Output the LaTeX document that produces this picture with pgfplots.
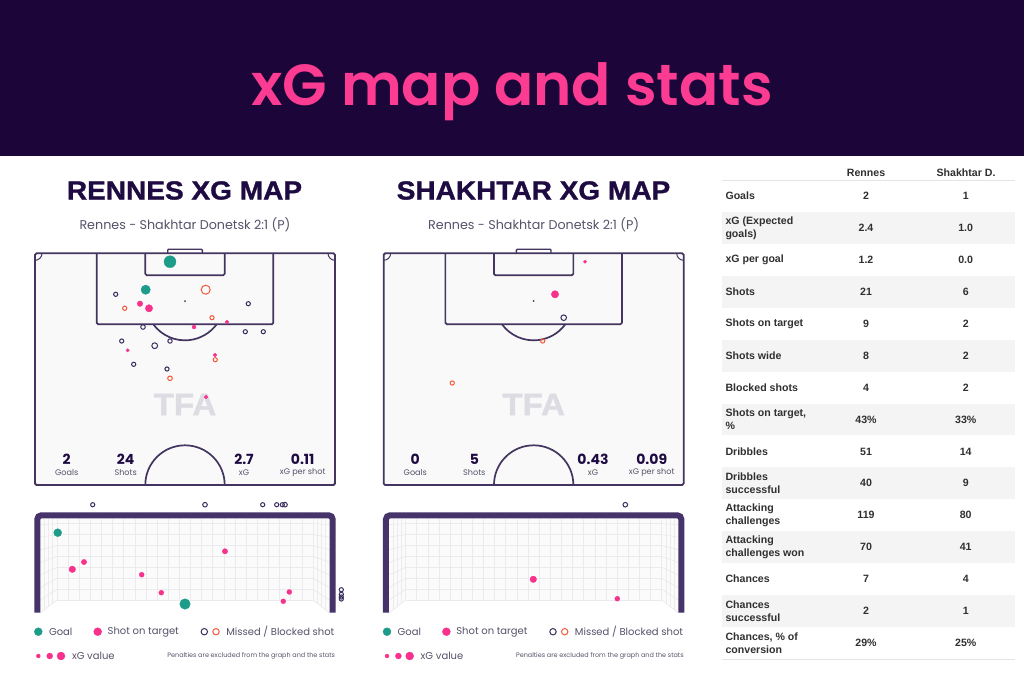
\documentclass[border=0pt]{standalone}
\usepackage{pgfplots}
\usepackage{pgfplotstable}
\usepackage{fontspec}
\pgfplotsset{compat=1.18}
\setmainfont{Liberation Sans}
\newfontfamily\popm{Poppins SemiBold}
\newfontfamily\popl{Poppins}
\newfontfamily\popb{Poppins}[BoldFont={Poppins Bold}]
\newfontfamily\headf{Liberation Sans Bold}[FakeStretch=1.07,FakeBold=1.2]
\definecolor{bandc}{HTML}{1C0538}
\definecolor{pinkc}{HTML}{F7318C}
\definecolor{titlec}{HTML}{FC3C92}
\definecolor{tealc}{HTML}{1E9C8A}
\definecolor{orngc}{HTML}{F4583A}
\definecolor{darkc}{HTML}{3A2D5F}
\definecolor{linec}{HTML}{43355F}
\definecolor{framec}{HTML}{45336A}
\definecolor{pitchc}{HTML}{F9F9F9}
\definecolor{netc}{HTML}{EBEBEE}
\definecolor{navyc}{HTML}{1E0B42}
\definecolor{grayt}{HTML}{57526A}
\definecolor{tblc}{HTML}{303030}
\definecolor{rowbg}{HTML}{F4F4F4}
\definecolor{rulec}{HTML}{E4E4E4}
\definecolor{tfac}{HTML}{DCDCE2}

% ---- data: x, y in reference pixels, r = marker radius
\pgfplotstableread{
x y r
170 261.7 6
145.7 289.7 4.7
57.7 532.7 4
185 604 5.3
}\RenGoal
\pgfplotstableread{
x y r
140 303.7 2.8
149 308.3 3.7
194 327 2
227 322 1.8
127.7 350.3 1.7
215 355 1.8
206 397 1.8
72.3 569.3 3.3
84 562 2.7
225 551.3 2.7
141.7 574.7 2.5
161.3 592.7 2.5
289.3 592 2.5
283.3 601.3 2.5
}\RenOn
\pgfplotstableread{
x y r
115.7 294.3 2.1
248.3 303.7 2.1
143 327 2.3
245.3 331.7 2.1
263.3 331.7 2.1
121.7 341 2.1
154.7 345.7 2.9
170 341 2.2
133.7 364.3 2.1
167 369 2.1
92.7 504.7 2.1
205 504.7 2.3
262.7 504.7 2.1
276.7 504.7 2.1
282.3 504.7 2.1
285 504.7 2.3
341.3 589.7 2.1
341.3 594.3 2.1
341.3 597 2.1
341.3 599 2.1
}\RenDark
\pgfplotstableread{
x y r
205.7 289.7 4.5
124.7 308.3 2.1
212 317.7 2.1
215.3 359.7 2.1
170 378.3 2.3
}\RenOrange
\pgfplotstableread{
x y r
585 261.7 1.7
555 294.3 3.7
533.3 579.3 3.3
617.3 598.7 2.5
}\ShaOn
\pgfplotstableread{
x y r
563.7 317.7 2.8
625.3 504.7 2.3
}\ShaDark
\pgfplotstableread{
x y r
542.7 341 2.1
452.3 383 2.1
}\ShaOrange
% legend glyphs
\pgfplotstableread{
x y r
38.3 631.7 4
387 631.7 4
}\LegGoal
\pgfplotstableread{
x y r
97.7 631.7 4
446.4 631.7 4
38.3 656 2
49.7 656 3
61 656 4
387 656 2
398.4 656 3
409.7 656 4
}\LegOn
\pgfplotstableread{
x y r
204.3 631.7 3.2
553 631.7 3.2
}\LegDark
\pgfplotstableread{
x y r
216 631.7 3.2
564.7 631.7 3.2
}\LegOrange

\pgfplotsset{
 shotbase/.style={only marks, scatter,
   visualization depends on={\thisrow{r}\as\rr},
   scatter/@pre marker code/.style={/tikz/mark size=\rr},
   scatter/@post marker code/.style={}},
 solidshot/.style={shotbase, mark=*, draw=#1, fill=#1, mark options={draw=#1,fill=#1,line width=0.3pt}},
 ringshot/.style={shotbase, mark=o, draw=#1, mark options={draw=#1,line width=1pt}},
}

\newcommand\pitchpanel[1]{%
  \fill[pitchc,rounded corners=1.5pt] (axis cs:#1+35,253.3) rectangle (axis cs:#1+335,485);
  \draw[linec,line width=1.8pt,rounded corners=1.5pt] (axis cs:#1+35,253.3) rectangle (axis cs:#1+335,485);
  \draw[linec,line width=1.4pt,rounded corners=1pt] (axis cs:#1+167.7,253.3) -- (axis cs:#1+167.7,249.2) -- (axis cs:#1+202.3,249.2) -- (axis cs:#1+202.3,253.3);
  \draw[linec,line width=1.7pt,rounded corners=1.5pt] (axis cs:#1+96.7,253.3) -- (axis cs:#1+96.7,324.3) -- (axis cs:#1+273.3,324.3) -- (axis cs:#1+273.3,253.3);
  \draw[linec,line width=1.7pt,rounded corners=1.5pt] (axis cs:#1+145.3,253.3) -- (axis cs:#1+145.3,275.3) -- (axis cs:#1+224.7,275.3) -- (axis cs:#1+224.7,253.3);
  \draw[linec,line width=1.7pt] (axis cs:#1+153.3,324.3) arc[start angle=143.7,end angle=36.3,radius=39.3];
  \draw[linec,line width=1.7pt] (axis cs:#1+145.3,485) arc[start angle=180,end angle=360,radius=39.7];
  \draw[linec,line width=1pt] (axis cs:#1+42,253.3) arc[start angle=0,end angle=90,radius=7];
  \draw[linec,line width=1pt] (axis cs:#1+328,253.3) arc[start angle=180,end angle=90,radius=7];
  \fill[linec] (axis cs:#1+185,301) circle[radius=1];
  \node[tfac,font=\headf\fontsize{31}{32}\selectfont] at (axis cs:#1+185,404.5) {TFA};
}
\newcommand\stat[4]{% dx, x, big, small
  \node[navyc,font=\popb\fontsize{14}{15}\selectfont\bfseries] at (axis cs:#1+#2,459) {#3};
  \node[grayt,font=\popl\fontsize{8.1}{10}\selectfont] at (axis cs:#1+#2,473) {#4};
}
\newcommand\goalpanel[1]{%
  \fill[white] (axis cs:#1+35,512.3) rectangle (axis cs:#1+335,612.7);
  \fill[pitchc!60!white] (axis cs:#1+40.5,518.5) -- (axis cs:#1+329.5,518.5) -- (axis cs:#1+329.5,612.7) -- (axis cs:#1+313,600) -- (axis cs:#1+57,600) -- (axis cs:#1+40.5,612.7) -- cycle;
  \pgfplotsinvokeforeach{0,...,23}{\draw[netc,line width=0.7pt] (axis cs:#1+57+11.13*##1,518.5) -- (axis cs:#1+57+11.13*##1,600);}
  \pgfplotsinvokeforeach{0,...,7}{%
    \draw[netc,line width=0.7pt] (axis cs:#1+57,600-10.9*##1) -- (axis cs:#1+313,600-10.9*##1);
    \draw[netc,line width=0.7pt] (axis cs:#1+57,600-10.9*##1) -- (axis cs:#1+40.5,600-10.9*##1+12.7-1.7*##1);
    \draw[netc,line width=0.7pt] (axis cs:#1+313,600-10.9*##1) -- (axis cs:#1+329.5,600-10.9*##1+12.7-1.7*##1);
  }
  \pgfplotsinvokeforeach{1,2,3}{%
    \draw[netc,line width=0.7pt] (axis cs:#1+40.5+4.1*##1,518.5) -- (axis cs:#1+40.5+4.1*##1,612.7-3.2*##1);
    \draw[netc,line width=0.7pt] (axis cs:#1+329.5-4.1*##1,518.5) -- (axis cs:#1+329.5-4.1*##1,612.7-3.2*##1);
  }
  \draw[framec,line width=6pt,rounded corners=4pt] (axis cs:#1+37.3,612.7) -- (axis cs:#1+37.3,515.3) -- (axis cs:#1+332.7,515.3) -- (axis cs:#1+332.7,612.7);
}
\newcommand\legendtext[1]{%
  \node[grayt,anchor=west,font=\popl\fontsize{10}{12}\selectfont] at (axis cs:#1+49,631.7) {Goal};
  \node[grayt,anchor=west,font=\popl\fontsize{10}{12}\selectfont] at (axis cs:#1+107.7,631.7) {Shot on target};
  \node[grayt,anchor=west,font=\popl\fontsize{10}{12}\selectfont] at (axis cs:#1+226.3,631.7) {Missed / Blocked shot};
  \node[grayt,anchor=west,font=\popl\fontsize{10}{12}\selectfont] at (axis cs:#1+72,656) {xG value};
  \node[grayt,anchor=east,font=\popl\fontsize{6.45}{8}\selectfont] at (axis cs:#1+335,656) {Penalties are excluded from the graph and the stats};
}
\newcommand\tablerow[4]{% row pos, label, a, b
  \node[tblc,anchor=west,align=left,font=\fontsize{10.6}{13}\selectfont\bfseries] at (axis cs:725.5,180+31.93*#1) {#2};
  \node[tblc,font=\fontsize{10.6}{13}\selectfont\bfseries] at (axis cs:866,180+31.93*#1) {#3};
  \node[tblc,font=\fontsize{10.6}{13}\selectfont\bfseries] at (axis cs:965.7,180+31.93*#1) {#4};
}
\newcommand\tableband[1]{\fill[rowbg] (axis cs:722,180+31.93*#1) rectangle (axis cs:1015,180+31.93*#1+31.93);}

\begin{document}
\begin{tikzpicture}[every node/.style={inner sep=0pt,outer sep=0pt}]
\begin{axis}[
  hide axis, scale only axis, width=1024pt, height=683pt,
  xmin=0, xmax=1024, ymin=0, ymax=683, y dir=reverse, clip=false,
]
\fill[white] (axis cs:0,0) rectangle (axis cs:1024,683);
\fill[bandc] (axis cs:0,0) rectangle (axis cs:1024,155.5);
\node[titlec,font=\popm\fontsize{58}{58}\selectfont] at (axis cs:512,91.5) {xG map and stats};

% headings
\node[navyc,font=\headf\fontsize{26.2}{27}\selectfont] at (axis cs:184.5,190.5) {RENNES XG MAP};
\node[navyc,font=\headf\fontsize{26.2}{27}\selectfont] at (axis cs:533.5,190.5) {SHAKHTAR XG MAP};
\node[grayt,font=\popl\fontsize{12.7}{15}\selectfont] at (axis cs:185,224.5) {Rennes - Shakhtar Donetsk 2:1 (P)};
\node[grayt,font=\popl\fontsize{12.7}{15}\selectfont] at (axis cs:533.7,224.5) {Rennes - Shakhtar Donetsk 2:1 (P)};

\pitchpanel{0}
\pitchpanel{348.67}
\stat{0}{66.7}{2}{Goals}
\stat{0}{125.7}{24}{Shots}
\stat{0}{244}{2.7}{xG}
\stat{0}{302.7}{0.11}{xG per shot}
\stat{0}{415.3}{0}{Goals}
\stat{0}{474.3}{5}{Shots}
\stat{0}{593}{0.43}{xG}
\stat{0}{651.7}{0.09}{xG per shot}
\goalpanel{0}
\goalpanel{348.67}
\legendtext{0}
\legendtext{348.67}

% shots
\addplot[solidshot=tealc] table[x=x,y=y] {\RenGoal};
\addplot[solidshot=pinkc] table[x=x,y=y] {\RenOn};
\addplot[ringshot=darkc] table[x=x,y=y] {\RenDark};
\addplot[ringshot=orngc] table[x=x,y=y] {\RenOrange};
\addplot[solidshot=pinkc] table[x=x,y=y] {\ShaOn};
\addplot[ringshot=darkc] table[x=x,y=y] {\ShaDark};
\addplot[ringshot=orngc] table[x=x,y=y] {\ShaOrange};
\addplot[solidshot=tealc] table[x=x,y=y] {\LegGoal};
\addplot[solidshot=pinkc] table[x=x,y=y] {\LegOn};
\addplot[ringshot=darkc] table[x=x,y=y] {\LegDark};
\addplot[ringshot=orngc] table[x=x,y=y] {\LegOrange};

% table
\tableband{1}\tableband{3}\tableband{5}\tableband{7}\tableband{9}\tableband{11}\tableband{13}
\draw[rulec,line width=1pt] (axis cs:722,180) -- (axis cs:1015,180);
\draw[rulec,line width=1pt] (axis cs:722,659) -- (axis cs:1015,659);
\node[tblc,font=\fontsize{10.6}{13}\selectfont\bfseries] at (axis cs:866,172.7) {Rennes};
\node[tblc,font=\fontsize{10.6}{13}\selectfont\bfseries] at (axis cs:966,172.7) {Shakhtar D.};
\tablerow{0.5}{Goals}{2}{1}
\tablerow{1.5}{xG (Expected\\goals)}{2.4}{1.0}
\tablerow{2.5}{xG per goal}{1.2}{0.0}
\tablerow{3.5}{Shots}{21}{6}
\tablerow{4.5}{Shots on target}{9}{2}
\tablerow{5.5}{Shots wide}{8}{2}
\tablerow{6.5}{Blocked shots}{4}{2}
\tablerow{7.5}{Shots on target,\\\%}{43\%}{33\%}
\tablerow{8.5}{Dribbles}{51}{14}
\tablerow{9.5}{Dribbles\\successful}{40}{9}
\tablerow{10.5}{Attacking\\challenges}{119}{80}
\tablerow{11.5}{Attacking\\challenges won}{70}{41}
\tablerow{12.5}{Chances}{7}{4}
\tablerow{13.5}{Chances\\successful}{2}{1}
\tablerow{14.5}{Chances, \% of\\conversion}{29\%}{25\%}
\end{axis}
\end{tikzpicture}
\end{document}
